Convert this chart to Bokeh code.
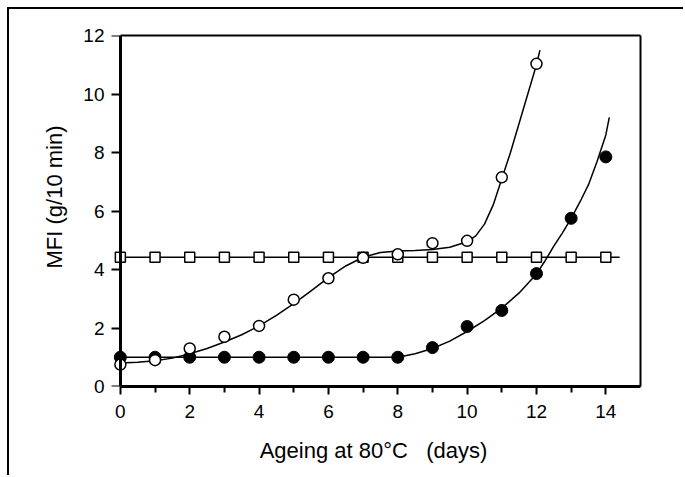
from bokeh.plotting import figure
from bokeh.models import Range1d, LinearAxis, FixedTicker, Title
from bokeh.embed import file_html
from bokeh.resources import INLINE

# ---- data ----
days_open = [0, 1, 2, 3, 4, 5, 6, 7, 8, 9, 10, 11, 12]
mfi_open = [0.75, 0.9, 1.3, 1.7, 2.07, 2.97, 3.7, 4.4, 4.52, 4.9, 4.98, 7.15, 11.03]

days_filled = [0, 1, 2, 3, 4, 5, 6, 7, 8, 9, 10, 11, 12, 13, 14]
mfi_filled = [1.0, 1.0, 1.0, 1.0, 1.0, 1.0, 1.0, 1.0, 1.0, 1.33, 2.05, 2.6, 3.86, 5.75, 7.85]

days_square = [0, 1, 2, 3, 4, 5, 6, 7, 8, 9, 10, 11, 12, 13, 14]
mfi_square = [4.42, 4.42, 4.42, 4.42, 4.42, 4.42, 4.42, 4.42, 4.42, 4.42, 4.42, 4.42, 4.42, 4.42, 4.42]

# fitted curves
curve_open_x = [0, 0.5, 1, 1.5, 2, 2.5, 3, 3.5, 4, 4.5, 5, 5.5, 6, 6.5, 7, 7.5, 8, 8.5, 9, 9.5,
                10, 10.25, 10.5, 10.75, 11, 11.25, 11.5, 11.75, 12, 12.1]
curve_open_y = [0.80, 0.83, 0.88, 0.97, 1.12, 1.30, 1.52, 1.77, 2.07, 2.43, 2.83, 3.27, 3.72, 4.12,
                4.42, 4.58, 4.63, 4.65, 4.68, 4.76, 4.95, 5.15, 5.55, 6.2, 7.1, 8.0, 9.0, 10.0, 11.0, 11.5]

curve_filled_x = [0, 1, 2, 3, 4, 5, 6, 7, 8, 8.5, 9, 9.5, 10, 10.5, 11, 11.5, 12, 12.25, 12.5,
                  12.75, 13, 13.25, 13.5, 13.75, 14, 14.1]
curve_filled_y = [1.0, 1.0, 1.0, 1.0, 1.0, 1.0, 1.0, 1.0, 1.0, 1.12, 1.3, 1.55, 1.88, 2.25, 2.68,
                  3.2, 3.85, 4.3, 4.8, 5.25, 5.75, 6.3, 6.9, 7.7, 8.6, 9.2]

line_square_x = [0, 14.4]
line_square_y = [4.42, 4.42]

x_major_ticks = [0, 2, 4, 6, 8, 10, 12, 14]
x_minor_ticks = [1, 3, 5, 7, 9, 11, 13]
y_major_ticks = [0, 2, 4, 6, 8, 10, 12]

x_title = "Ageing at 80°C\u00a0\u00a0\u00a0(days)"
y_title = "MFI (g/10 min)"

FONT = "Liberation Sans"

p = figure(width=676, height=468, output_backend="svg", toolbar_location=None,
           x_range=Range1d(-0.4, 15), y_range=Range1d(0, 12),
           min_border_left=97, min_border_right=45, min_border_top=26, min_border_bottom=91)
p.styles = {"border-left": "2px solid black", "border-top": "2px solid black",
            "margin-left": "7px", "margin-top": "7px"}
p.grid.visible = False
p.outline_line_color = None
p.background_fill_color = "white"
p.border_fill_color = "white"

# bottom axis
xa = p.xaxis[0]
xa.ticker = FixedTicker(ticks=x_major_ticks, minor_ticks=x_minor_ticks)
xa.bounds = (0, 15)
xa.axis_line_width = 3
xa.axis_line_color = "black"
xa.major_tick_in = 0
xa.major_tick_out = 8
xa.minor_tick_in = 0
xa.minor_tick_out = 6
xa.major_tick_line_width = 2
xa.minor_tick_line_width = 2
xa.major_label_text_font = FONT
xa.major_label_text_font_size = "19px"
xa.major_label_text_color = "black"
xa.major_label_standoff = 10
xa.axis_label = x_title
xa.axis_label_text_font = FONT
xa.axis_label_text_font_size = "22px"
xa.axis_label_text_font_style = "normal"
xa.axis_label_text_color = "black"
xa.axis_label_standoff = 17

# left axis labels (at the frame edge), no line/ticks
yb = p.yaxis[0]
yb.ticker = FixedTicker(ticks=y_major_ticks)
yb.axis_line_color = None
yb.major_tick_line_color = None
yb.minor_tick_line_color = None
yb.major_tick_out = 0
yb.major_tick_in = 0
yb.minor_tick_out = 0
yb.minor_tick_in = 0
yb.major_label_text_font = FONT
yb.major_label_text_font_size = "19px"
yb.major_label_text_color = "black"
yb.major_label_standoff = 2

# left axis line and ticks, drawn at x = 0 (ticks as unlabelled minor ticks)
ya = LinearAxis(ticker=FixedTicker(ticks=[], minor_ticks=y_major_ticks), fixed_location=0,
                bounds=(0, 12), axis_line_width=3, axis_line_color="black",
                major_tick_in=0, major_tick_out=0, minor_tick_in=0, minor_tick_out=9,
                minor_tick_line_width=2, minor_tick_line_color="black")
p.add_layout(ya, "left")

p.add_layout(Title(text=y_title, align="left", text_font=FONT, text_font_size="22px",
                   text_font_style="normal", text_color="black", offset=118, standoff=28), "left")

top = LinearAxis(ticker=FixedTicker(ticks=[]), bounds=(0, 15), axis_line_width=2,
                 major_tick_out=0, major_tick_in=0, minor_tick_out=0, minor_tick_in=0)
p.add_layout(top, "above")
right = LinearAxis(ticker=FixedTicker(ticks=[]), bounds=(0, 12), axis_line_width=2,
                   major_tick_out=0, major_tick_in=0, minor_tick_out=0, minor_tick_in=0)
p.add_layout(right, "right")

# curves
p.line(curve_open_x, curve_open_y, line_color="black", line_width=1.5)
p.line(curve_filled_x, curve_filled_y, line_color="black", line_width=1.5)
p.line(line_square_x, line_square_y, line_color="black", line_width=1.5)

# markers
p.scatter(days_square, mfi_square, marker="square", size=10, fill_color="white",
          line_color="black", line_width=1.5)
p.scatter(days_filled, mfi_filled, marker="circle", size=12, fill_color="black",
          line_color="black", line_width=1)
p.scatter(days_open, mfi_open, marker="circle", size=11, fill_color="white",
          line_color="black", line_width=1.5)

open("out.html", "w").write(file_html(p, INLINE))
